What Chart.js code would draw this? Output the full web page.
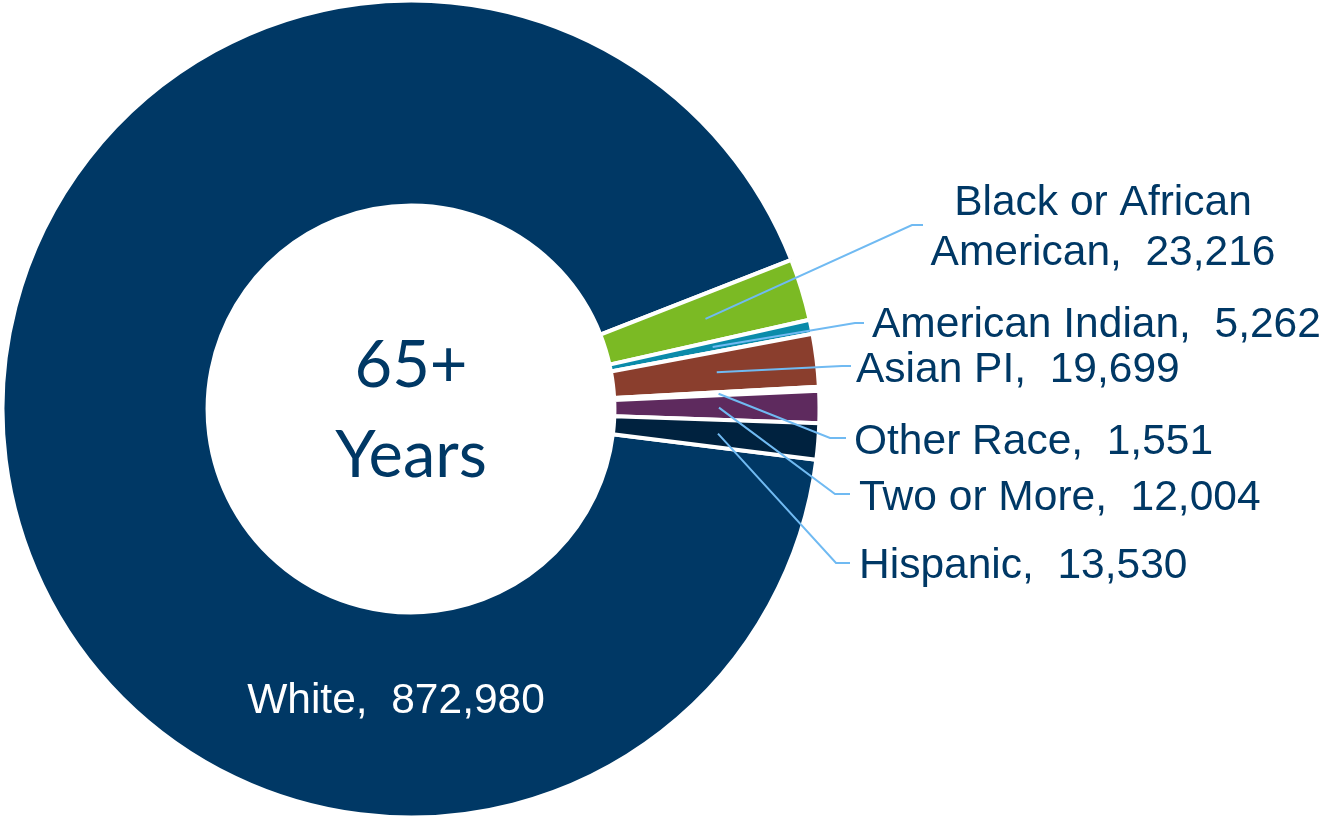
<!DOCTYPE html>
<html>
<head>
<meta charset="utf-8">
<script src="https://cdn.jsdelivr.net/npm/chart.js@4.4.1/dist/chart.umd.min.js"></script>
<style>
  html, body { margin: 0; padding: 0; background: #ffffff; }
  #wrap { position: relative; width: 1324px; height: 817px; }
</style>
</head>
<body>
<div id="wrap"><canvas id="c"></canvas></div>
<script>
// ---- data ----
const categories = ['White', 'Black or African American', 'American Indian', 'Asian PI', 'Other Race', 'Two or More', 'Hispanic'];
const values = [872980, 23216, 5262, 19699, 1551, 12004, 13530];
const sliceColors = ['#003865', '#7BBA24', '#0A8BAA', '#8A3E2D', '#FFFFFF', '#5E2A5E', '#00223F'];
const centerLines = ['65+', 'Years'];

// ---- layout (positions of labels / leader elbows) ----
const NAVY = '#003865';
const LEADER = '#70BAF2';
const labelLayout = [
  { align: 'center', x: 396, y: [713], color: '#FFFFFF', leader: null },
  { align: 'center', x: 1103, y: [215, 265], color: NAVY, wrapAt: 16, leader: [[912, 225], [923, 225]] },
  { align: 'left', x: 872, y: [337], color: NAVY, leader: [[855, 323], [864, 323]] },
  { align: 'left', x: 856, y: [382], color: NAVY, leader: [[842, 366], [851, 366]] },
  { align: 'left', x: 854, y: [454], color: NAVY, leader: [[830, 438], [846, 438]] },
  { align: 'left', x: 859, y: [510], color: NAVY, leader: [[835, 494], [850, 494]] },
  { align: 'left', x: 859, y: [578], color: NAVY, leader: [[836, 563], [850, 563]] }
];

function labelLines(i) {
  const cat = categories[i];
  const val = values[i].toLocaleString('en-US');
  const lay = labelLayout[i];
  if (lay.wrapAt) {
    return [cat.slice(0, lay.wrapAt), cat.slice(lay.wrapAt + 1) + ',  ' + val];
  }
  return [cat + ',  ' + val];
}

const labelPlugin = {
  id: 'labelPlugin',
  afterDatasetsDraw(chart) {
    const ctx = chart.ctx;
    const meta = chart.getDatasetMeta(0);
    ctx.save();
    // leader lines
    meta.data.forEach((arc, i) => {
      const lay = labelLayout[i];
      if (!lay.leader) return;
      const p = arc.getProps(['x', 'y', 'startAngle', 'endAngle', 'innerRadius', 'outerRadius'], true);
      const mid = (p.startAngle + p.endAngle) / 2;
      const r = (p.innerRadius + p.outerRadius) / 2 + 2;
      ctx.beginPath();
      ctx.moveTo(p.x + Math.cos(mid) * r, p.y + Math.sin(mid) * r);
      lay.leader.forEach(pt => ctx.lineTo(pt[0], pt[1]));
      ctx.strokeStyle = LEADER;
      ctx.lineWidth = 2;
      ctx.stroke();
    });
    // labels
    ctx.font = '42.5px "Liberation Sans", Arial, sans-serif';
    ctx.textBaseline = 'alphabetic';
    meta.data.forEach((arc, i) => {
      const lay = labelLayout[i];
      ctx.fillStyle = lay.color;
      ctx.textAlign = lay.align;
      labelLines(i).forEach((line, k) => ctx.fillText(line, lay.x, lay.y[k]));
    });
    // centre text
    const c = meta.data[0];
    ctx.fillStyle = NAVY;
    ctx.textAlign = 'center';
    ctx.font = '65px Lato, "Open Sans", sans-serif';
    ctx.fillText(centerLines[0], c.x, c.y - 22);
    ctx.fillText(centerLines[1], c.x, c.y + 68);
    ctx.restore();
  }
};

new Chart(document.getElementById('c'), {
  type: 'doughnut',
  data: {
    labels: categories,
    datasets: [{
      data: values,
      backgroundColor: sliceColors,
      borderColor: '#FFFFFF',
      borderWidth: 4,
      hoverOffset: 0
    }]
  },
  options: {
    responsive: true,
    maintainAspectRatio: false,
    animation: false,
    rotation: 97.15,
    radius: 408.5,
    cutout: '49.8%',
    layout: { padding: { left: 0, right: 502, top: 1, bottom: 0 } },
    plugins: {
      legend: { display: false },
      tooltip: { enabled: false }
    },
    events: []
  },
  plugins: [labelPlugin]
});
</script>
</body>
</html>
